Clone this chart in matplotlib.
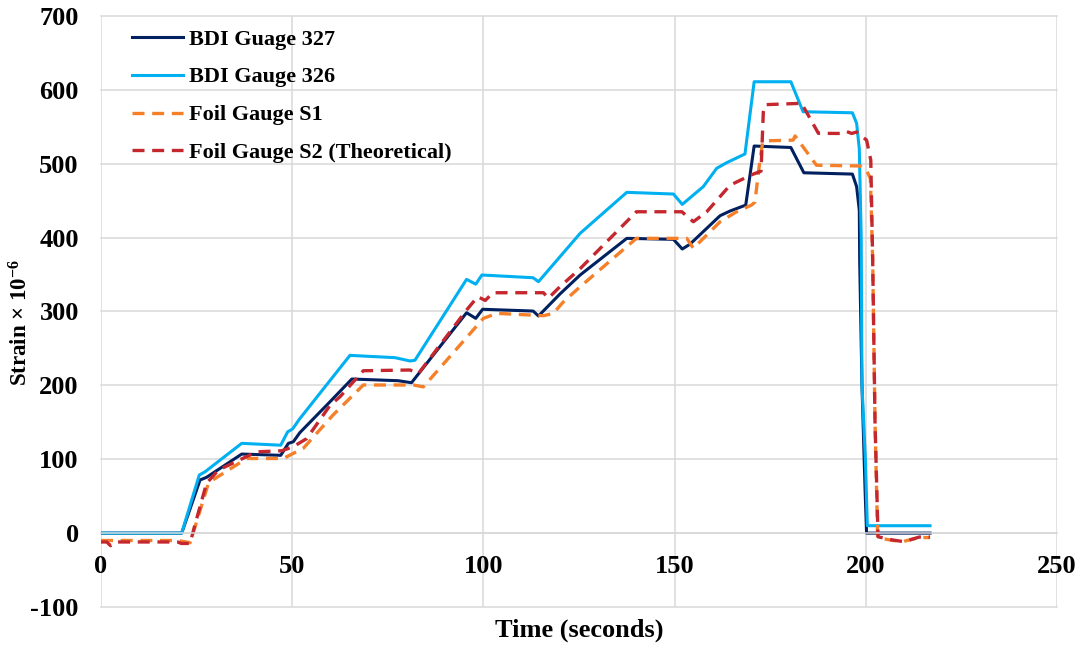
import matplotlib
matplotlib.use("Agg")
import matplotlib.pyplot as plt

plt.rcParams["font.family"] = ["Liberation Serif", "DejaVu Serif"]
plt.rcParams["font.weight"] = "bold"
plt.rcParams["axes.unicode_minus"] = False
plt.rcParams["mathtext.fontset"] = "custom"
plt.rcParams["mathtext.rm"] = "Liberation Serif:bold"
plt.rcParams["mathtext.bf"] = "Liberation Serif:bold"
plt.rcParams["mathtext.it"] = "Liberation Serif:bold:italic"

# ---- data: time (s) and strain (microstrain) for each gauge ----
t_bdi327 = [0, 21.1, 25.9, 27.6, 36.8, 47, 49, 50.3, 52, 59.9, 65.6, 77.7, 81.2,
            95.6, 98, 99.8, 113, 114.4, 120, 125.3, 137.5, 149.7, 152, 154,
            161.9, 164.5, 168.6, 170.8, 180.4, 183.8, 196.5, 197.6, 198.3,
            198.4, 199.0, 199.8, 200.2, 216.8]
s_bdi327 = [0, 0, 71.9, 75.5, 107, 105.3, 121.5, 123.7, 136, 177.9, 208.6, 206.3,
            203.6, 298.3, 290.7, 303, 300.6, 293.9, 323.6, 349.4, 399, 397.7,
            384.6, 391, 429.7, 436, 444, 524, 522, 487.8, 486, 469, 437,
            369, 200, 60, 0, 0]

t_bdi326 = [0, 21.1, 25.7, 27.2, 36.8, 47, 48.8, 50.1, 52, 65.1, 76.9, 80.8, 82.1,
            95.6, 98, 99.6, 113, 114.4, 120, 125.3, 137.5, 149.7, 152, 157.5,
            161, 163.6, 168.4, 170.8, 180.4, 183.6, 196.5, 197.6, 198.3, 198.8,
            199.0, 199.9, 200.4, 216.8]
s_bdi326 = [0, 0, 78.6, 83, 121.5, 119, 137, 141, 155, 240.6, 237.5, 233, 234,
            343.5, 337, 349.4, 345.7, 340.3, 374, 405.8, 461.3, 459, 445, 469,
            493.8, 501.4, 513.2, 611, 611, 570.4, 569, 554.7, 520, 400,
            200, 99, 10, 10]

t_s1 = [0, 20, 23.3, 24.1, 28, 28.5, 38.1, 47.7, 50.3, 52.9, 60.7, 68.6, 81.7,
        84.3, 100, 103.5, 115.7, 118.3, 120.9, 125.3, 140, 153.2, 154.9, 161.9,
        166.2, 170.1, 171.0, 172.2, 173.0, 173.6, 181, 181.5, 187.1, 198.5,
        200.2, 201.2, 201.8, 202.4, 203.1, 207, 210, 214, 216.8]
s_s1 = [-10, -10, -13, 0, 66, 69.6, 101, 101, 108, 114.8, 160, 200.5, 200.5,
        198, 290.7, 297.5, 294.3, 297.5, 313, 333.5, 399, 399, 385.5, 421.5,
        435, 444, 448, 500, 528, 531, 532, 537.6, 498, 497,
        491, 480, 369, 153, -6, -10, -11, -6, -6]

t_s2 = [0, 1.5, 2.5, 4, 20, 21, 23.3, 24.5, 27.6, 30.7, 40.7, 47.3, 50.3, 53.8,
        59.9, 62.5, 68.6, 80.8, 83, 95.6, 98.5, 100.5, 102.5, 115.7, 117, 120,
        125.3, 140, 151.9, 154.9, 158.4, 164.5, 170.1, 172.6, 173.2, 173.8,
        183.2, 187.6, 193.2, 194.8, 196.3, 197.6, 200.2, 201.3, 201.8, 202.4,
        203.2, 207, 210, 214, 216.8]
s_s2 = [-12, -12, -17, -12, -12, -14, -14, 10, 67.4, 85.4, 110, 111.5, 117, 128,
        173, 184.6, 219.8, 220.8, 216, 302, 320, 315, 325.4, 325.4, 318, 333.5,
        358, 435, 435, 421.5, 435, 471, 485, 490, 570, 580,
        581.8, 541.2, 541, 544, 541, 543, 532, 505, 369, 153,
        -5, -9.3, -11.6, -5.3, -5.3]

labels = ["BDI Guage 327", "BDI Gauge 326", "Foil Gauge S1",
          "Foil Gauge S2 (Theoretical)"]
colors = ["#002060", "#00B0F0", "#F58029", "#C4272E"]

x_ticks = [0, 50, 100, 150, 200, 250]
y_ticks = [-100, 0, 100, 200, 300, 400, 500, 600, 700]

fig = plt.figure(figsize=(10.86, 6.48), dpi=100)
ax = fig.add_axes([0.0930, 0.0633, 0.8803, 0.9120])

ax.plot(t_bdi327, s_bdi327, color=colors[0], lw=2.2, label=labels[0])
ax.plot(t_bdi326, s_bdi326, color=colors[1], lw=2.2, label=labels[1])
ax.plot(t_s1, s_s1, color=colors[2], lw=2.4, dashes=(3.6, 2.3), label=labels[2])
ax.plot(t_s2, s_s2, color=colors[3], lw=2.4, dashes=(3.6, 2.3), label=labels[3])

ax.set_xlim(0, 250)
ax.set_ylim(-100, 700)
ax.set_xticks(x_ticks)
ax.set_yticks(y_ticks)

grid_color = "#D9D9D9"
ax.grid(True, color=grid_color, lw=1.1)
ax.set_axisbelow(True)
for gl in ax.get_xgridlines() + ax.get_ygridlines():
    gl.set_clip_on(False)

for side in ["top", "right", "left"]:
    ax.spines[side].set_visible(False)
# horizontal axis crosses at zero strain
ax.spines["bottom"].set_position(("data", 0))
ax.spines["bottom"].set_color(grid_color)
ax.spines["bottom"].set_linewidth(1.1)

ax.tick_params(axis="both", length=0, labelsize=19)
ax.tick_params(axis="x", pad=16)
ax.tick_params(axis="y", pad=16)
for lbl in ax.get_xticklabels() + ax.get_yticklabels():
    lbl.set_fontweight("bold")

ax.set_xlabel("Time (seconds)", fontsize=19, fontweight="bold")
ax.xaxis.set_label_coords(0.5, -0.039)
ax.xaxis.label.set_va("center")
ax.set_ylabel(r"Strain × 10$^{\mathbf{-6}}$", fontsize=16.5, fontweight="bold")
ax.yaxis.set_label_coords(-0.0837, 0.482)
ax.yaxis.label.set_va("center")

leg = ax.legend(loc="upper left", bbox_to_anchor=(0.0324, 0.978),
                frameon=False, handlelength=2.3,
                handletextpad=0.25, labelspacing=0.78, borderpad=0,
                borderaxespad=0, prop={"weight": "bold", "size": 16})

fig.savefig("out.png", dpi=100, facecolor="white")
